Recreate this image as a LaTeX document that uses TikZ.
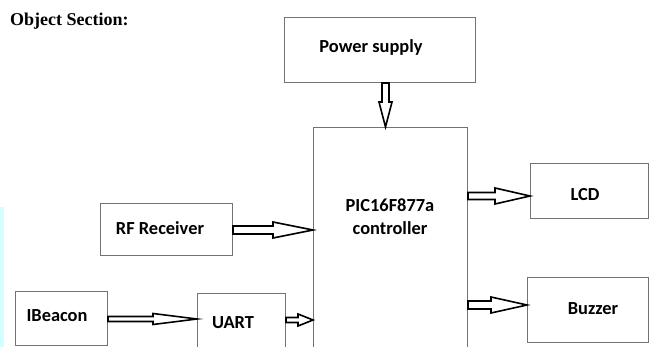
\documentclass[tikz,border=0pt]{standalone}
\usepackage{fontspec}
\setmainfont{Carlito}
\newfontfamily\titlefont{Liberation Serif}
\usetikzlibrary{calc}
\definecolor{boxgray}{RGB}{115,115,115}
\definecolor{stripcyan}{RGB}{212,255,255}
\tikzset{
  box/.style={draw=boxgray, line width=1pt, inner sep=0pt, anchor=north west},
  lbl/.style={font=\bfseries\fontsize{18.4}{21}\selectfont, inner sep=0pt, text=black},
  hollow/.style={draw=black, line width=1.6pt, fill=white, line join=miter}
}
\newcommand\blockarrow[5]{% #1 from, #2 to, #3 shaft half width, #4 head half width, #5 head length
  \coordinate (ba-h) at ($(#2)!#5!(#1)$);
  \draw[hollow] ($(#1)!#3!90:(#2)$) -- ($(ba-h)!#3!-90:(#1)$) -- ($(ba-h)!#4!-90:(#1)$) -- (#2)
    -- ($(ba-h)!#4!90:(#1)$) -- ($(ba-h)!#3!90:(#1)$) -- ($(#1)!#3!-90:(#2)$) -- cycle;
}
\begin{document}
\begin{tikzpicture}[x=1pt,y=-1pt]
\useasboundingbox (0,0) rectangle (654,347);
\clip (0,0) rectangle (654,347);
\fill[white] (0,0) rectangle (654,347);
\fill[stripcyan] (0,207) rectangle (4,347);

% title
\node[anchor=west, inner sep=0pt, font=\titlefont\bfseries\fontsize{18}{21}\selectfont] (title) at (10,21) {Object Section:};

% boxes
\node[box, minimum width=191pt, minimum height=65pt] (ps) at (284,17) {};
\node[box, minimum width=154pt, minimum height=240pt] (pic) at (313,127) {};
\node[box, minimum width=132pt, minimum height=52pt] (rf) at (100,203) {};
\node[box, minimum width=92pt, minimum height=54pt] (ib) at (15,291) {};
\node[box, minimum width=88pt, minimum height=60pt] (uart) at (197,293) {};
\node[box, minimum width=118pt, minimum height=55pt] (lcd) at (530,163) {};
\node[box, minimum width=121pt, minimum height=65pt] (buz) at (527,277) {};

% labels
\node[lbl] (pst) at (371,47) {Power supply};
\node[lbl] (pict1) at (390,205) {PIC16F877a};
\node[lbl] (pict2) at (390,228) {controller};
\node[lbl] (rft) at (160,228) {RF Receiver};
\node[lbl] (ibt) at (57,316) {IBeacon};
\node[lbl] (uartt) at (233,323) {UART};
\node[lbl] (lcdt) at (585,195) {LCD};
\node[lbl] (buzt) at (593,309) {Buzzer};

% helper coordinates
\coordinate (pwrx) at (385.5,0);
\coordinate (rfy) at (0,230);
\coordinate (iby) at (0,319);
\coordinate (uarty) at (0,320);
\coordinate (lcdy) at (0,196);
\coordinate (buzy) at (0,305);

% arrows
\blockarrow{ps.south -| pwrx}{pic.north -| pwrx}{3.5pt}{6.5pt}{25pt}
\blockarrow{rf.east |- rfy}{pic.west |- rfy}{4pt}{8pt}{40pt}
\blockarrow{ib.east |- iby}{uart.west |- iby}{2.5pt}{5.5pt}{44pt}
\blockarrow{uart.east |- uarty}{pic.west |- uarty}{2.5pt}{6pt}{15pt}
\blockarrow{pic.east |- lcdy}{lcd.west |- lcdy}{3.5pt}{8pt}{35pt}
\blockarrow{pic.east |- buzy}{buz.west |- buzy}{4pt}{8pt}{36pt}
\end{tikzpicture}
\end{document}
